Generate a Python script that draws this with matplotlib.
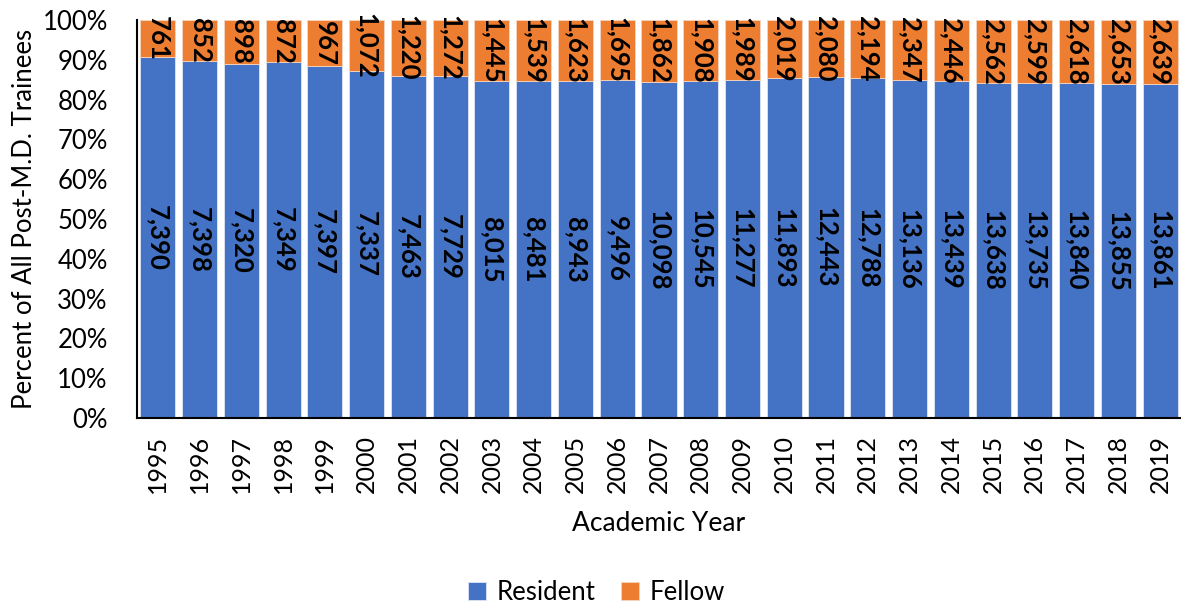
import numpy as np
import matplotlib.pyplot as plt

years = [str(y) for y in range(1995, 2020)]
resident = [7390, 7398, 7320, 7349, 7397, 7337, 7463, 7729, 8015, 8481, 8943, 9496,
            10098, 10545, 11277, 11893, 12443, 12788, 13136, 13439, 13638, 13735,
            13840, 13855, 13861]
fellow = [761, 852, 898, 872, 967, 1072, 1220, 1272, 1445, 1539, 1623, 1695,
          1862, 1908, 1989, 2019, 2080, 2194, 2347, 2446, 2562, 2599, 2618, 2653, 2639]

plt.rcParams['font.family'] = ['Lato', 'DejaVu Sans']

res = np.array(resident, dtype=float)
fel = np.array(fellow, dtype=float)
tot = res + fel
res_pct = res / tot
fel_pct = fel / tot
x = np.arange(len(years))

fig = plt.figure(figsize=(11.81, 6.10), dpi=100)
ax = fig.add_axes([0.116, 0.315, 0.884, 0.652])

ax.bar(x, res_pct, width=0.84, color='#4472C4', edgecolor='#dfe6f3', linewidth=0.6, label='Resident')
ax.bar(x, fel_pct, width=0.84, bottom=res_pct, color='#ED7D31', edgecolor='#f5d5c0', linewidth=0.6, label='Fellow')

# data labels, centred in each segment
for i in range(len(x)):
    ax.text(x[i], res_pct[i] / 2, f'{resident[i]:,}', rotation=270, ha='center', va='center',
            fontsize=18.5, fontweight='bold', color='black')
    ax.text(x[i], res_pct[i] + fel_pct[i] / 2, f'{fellow[i]:,}', rotation=270, ha='center',
            va='center', fontsize=18.5, fontweight='bold', color='black', clip_on=False)

ax.set_xlim(-0.5, len(x) - 0.5)
ax.set_ylim(0, 1)
ticks = np.arange(0, 1.01, 0.1)
ax.set_yticks(ticks)
ax.set_yticklabels([f'{int(round(v * 100))}%' for v in ticks], fontsize=18.5)
ax.set_xticks(x)
ax.set_xticklabels(years, rotation=90, fontsize=18)
ax.tick_params(axis='both', length=0)
ax.tick_params(axis='x', pad=12)
ax.tick_params(axis='y', pad=21)

for s in ['top', 'right']:
    ax.spines[s].set_visible(False)
ax.spines['left'].set_linewidth(1.5)
ax.spines['bottom'].set_linewidth(1.5)

ax.set_xlabel('Academic Year', fontsize=19, labelpad=13)
ax.set_ylabel('Percent of All Post-M.D. Trainees', fontsize=18.5, labelpad=4)

fig.legend(loc='lower center', bbox_to_anchor=(0.505, -0.03), ncol=2, frameon=False,
           fontsize=18.5, handlelength=0.7, handleheight=0.7, columnspacing=1.0, handletextpad=0.4)

fig.savefig('out.png', dpi=100)
